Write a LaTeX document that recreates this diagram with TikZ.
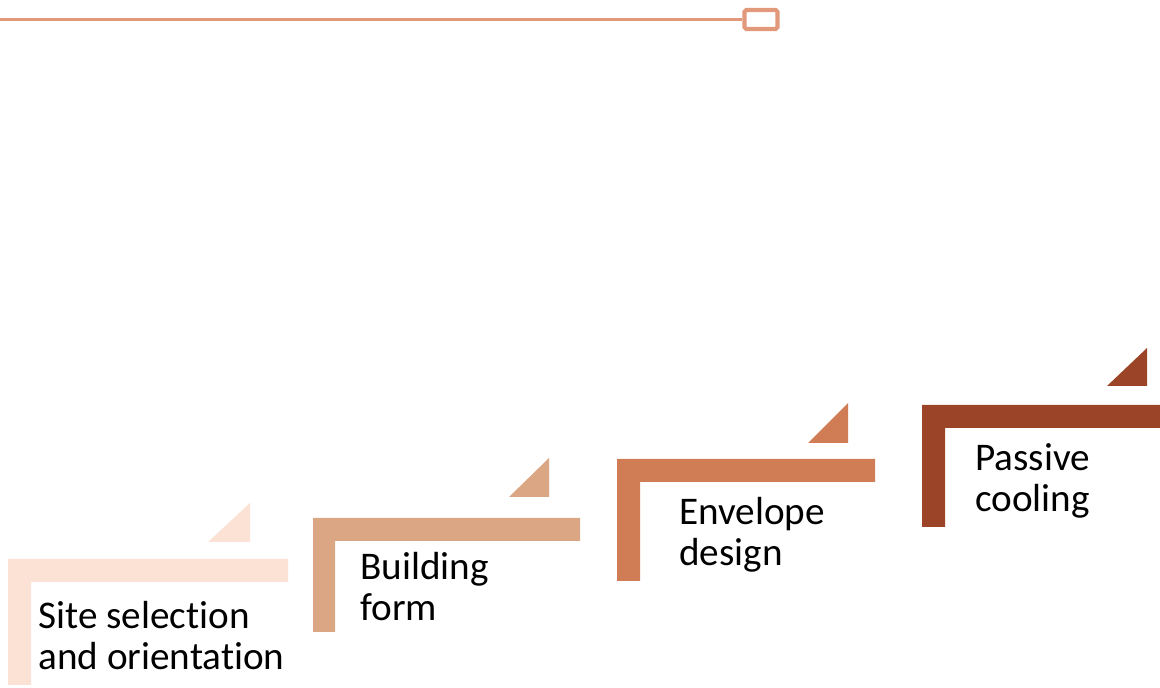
\documentclass[tikz,border=0pt]{standalone}
\usepackage{fontspec}
\setmainfont{Carlito}[Ligatures=NoCommon]
\usetikzlibrary{positioning}
\definecolor{stepone}{HTML}{FBE2D5}
\definecolor{steptwo}{HTML}{DBA683}
\definecolor{stepthree}{HTML}{D07D56}
\definecolor{stepfour}{HTML}{9C4427}
\definecolor{rulecol}{HTML}{E2987A}

\begin{document}
\begin{tikzpicture}[x=0.02cm,y=-0.02cm,
  label/.style={anchor=base west,align=left,inner sep=0pt,
                font=\fontsize{22.3}{23.8}\selectfont,text=black},
  endbox/.style={draw=rulecol,line width=2.3pt,rounded corners=1pt,
                 minimum width=0.66cm,minimum height=0.38cm,inner sep=0pt}
]
  \useasboundingbox (0,0) rectangle (1160,688);

  % ---- Top rule with end box ----------------------------------
  \coordinate (rulestart) at (0,19.5);
  \node[endbox] (rulebox) at (761,19.5) {};
  \draw[rulecol,line width=2.2pt] (rulestart) -- (rulebox.west);

  % ---- Step 1 -------------------------------------------------
  \fill[stepone] (8,685) -- (8,559) -- (288,559) -- (288,582)
    -- (31,582) -- (31,685) -- cycle;
  \fill[stepone] (208,542) -- (250,542) -- (250,503) -- cycle;
  \node[label] (site) at (38,670) {Site selection\\and orientation};

  % ---- Step 2 -------------------------------------------------
  \fill[steptwo] (313,632) -- (313,518) -- (580,518) -- (580,541)
    -- (335,541) -- (335,632) -- cycle;
  \fill[steptwo] (509,497) -- (549,497) -- (549,458) -- cycle;
  \node[label] (form) at (360,621) {Building\\form};

  % ---- Step 3 -------------------------------------------------
  \fill[stepthree] (617,581) -- (617,459) -- (875,459) -- (875,482)
    -- (640,482) -- (640,581) -- cycle;
  \fill[stepthree] (808,443) -- (848,443) -- (848,403) -- cycle;
  \node[label] (envelope) at (679,566) {Envelope\\design};

  % ---- Step 4 -------------------------------------------------
  \fill[stepfour] (922,527) -- (922,405) -- (1160,405) -- (1160,428)
    -- (945,428) -- (945,527) -- cycle;
  \fill[stepfour] (1107,386) -- (1147,386) -- (1147,348) -- cycle;
  \node[label] (cooling) at (975,512) {Passive\\cooling};

\end{tikzpicture}
\end{document}
